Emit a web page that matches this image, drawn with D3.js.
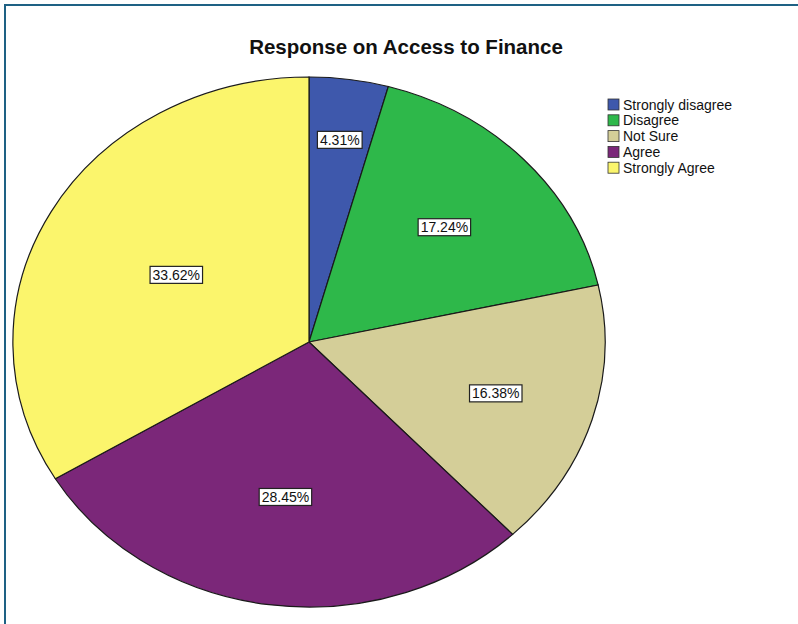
<!DOCTYPE html>
<html>
<head>
<meta charset="utf-8">
<script src="https://cdn.jsdelivr.net/npm/d3@7"></script>
<style>
  html, body { margin: 0; padding: 0; background: #fff; }
  svg { display: block; font-family: "Liberation Sans", Arial, sans-serif; }
</style>
</head>
<body>
<svg id="chart" width="798" height="624"></svg>
<script>
// Response categories, their shares (percent) and fill colours
const categories = ["Strongly disagree", "Disagree", "Not Sure", "Agree", "Strongly Agree"];
const percents = [4.31, 17.24, 16.38, 28.45, 33.62];
const colors = ["#3e58ac", "#2eb84a", "#d4ce98", "#7b2779", "#fbf56c"];
const title = "Response on Access to Finance";

// Layout
const W = 798, H = 624;
const cx = 309, cy = 342, rx = 296, ry = 265;
// Radial position of each percentage label, as a fraction of the radius
const labelRadius = [0.77, 0.63, 0.66, 0.59, 0.515];

const svg = d3.select("#chart");

// Frame: teal rules on top and left
svg.append("line").attr("x1", 4).attr("x2", W).attr("y1", 5).attr("y2", 5)
  .attr("stroke", "#1e6184").attr("stroke-width", 2);
svg.append("line").attr("x1", 5).attr("x2", 5).attr("y1", 4).attr("y2", H)
  .attr("stroke", "#1e6184").attr("stroke-width", 2);

svg.append("text")
  .attr("x", 406).attr("y", 54)
  .attr("text-anchor", "middle")
  .attr("font-size", 20.5).attr("font-weight", "bold")
  .attr("fill", "#111")
  .text(title);

const data = categories.map((c, i) => ({ cat: c, value: percents[i], color: colors[i], i }));

const pie = d3.pie().value(d => d.value).sort(null);
const arcs = pie(data);

// Unit-radius arc, stretched into an ellipse
const arc = d3.arc().innerRadius(0).outerRadius(1);

const g = svg.append("g")
  .attr("transform", `translate(${cx},${cy}) scale(${rx},${ry})`);

g.selectAll("path.slice")
  .data(arcs)
  .join("path")
  .attr("class", "slice")
  .attr("d", arc)
  .attr("fill", d => d.data.color)
  .attr("stroke", "#1a1a1a")
  .attr("stroke-width", 1.2)
  .attr("vector-effect", "non-scaling-stroke");

// Percentage labels in boxed tags
const fmt = d3.format(".2f");
const labels = svg.append("g");
arcs.forEach((a, k) => {
  const r = labelRadius[k];
  const mid = (a.startAngle + a.endAngle) / 2;
  const x = cx + rx * r * Math.sin(mid);
  const y = cy - ry * r * Math.cos(mid);
  const lg = labels.append("g").attr("transform", `translate(${x},${y})`);
  const t = lg.append("text")
    .attr("text-anchor", "middle")
    .attr("dy", "0.36em")
    .attr("font-size", 14)
    .attr("fill", "#111")
    .text(fmt(a.data.value) + "%");
  const bb = t.node().getBBox();
  lg.insert("rect", "text")
    .attr("x", bb.x - 2.5).attr("y", bb.y - 0.5)
    .attr("width", bb.width + 5).attr("height", bb.height + 1)
    .attr("fill", "#fff")
    .attr("stroke", "#222").attr("stroke-width", 1.2);
});

// Legend
const legend = svg.append("g").attr("transform", "translate(608,99)");
const row = legend.selectAll("g")
  .data(data)
  .join("g")
  .attr("transform", d => `translate(0,${d.i * 15.8})`);
row.append("rect")
  .attr("width", 11).attr("height", 11)
  .attr("fill", d => d.color)
  .attr("stroke", "#333").attr("stroke-width", 0.8);
row.append("text")
  .attr("x", 15).attr("y", 10.5)
  .attr("font-size", 14)
  .attr("fill", "#111")
  .text(d => d.cat);
</script>
</body>
</html>
